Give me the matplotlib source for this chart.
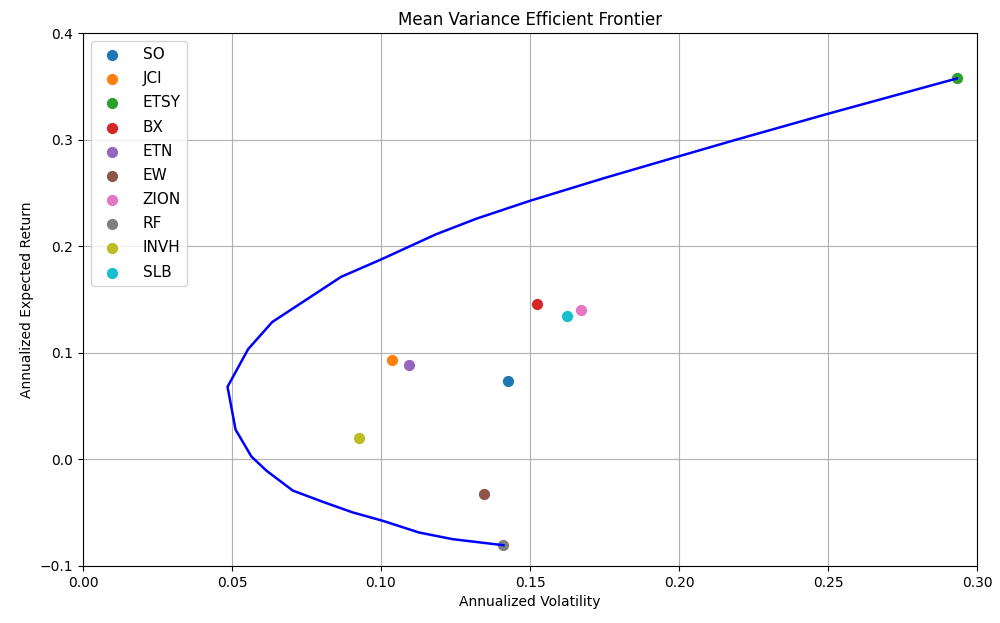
import matplotlib
matplotlib.use("Agg")
import matplotlib.pyplot as plt

tickers = ["SO", "JCI", "ETSY", "BX", "ETN", "EW", "ZION", "RF", "INVH", "SLB"]
asset_vol = [0.1425, 0.1036, 0.2933, 0.1525, 0.1093, 0.1344, 0.1670, 0.1411, 0.0925, 0.1623]
asset_ret = [0.0735, 0.0930, 0.3580, 0.1460, 0.0890, -0.0325, 0.1400, -0.0805, 0.0200, 0.1345]

frontier_vol = [0.1411, 0.1240, 0.1128, 0.1005, 0.0905, 0.0810, 0.0704, 0.0615, 0.0565,
                0.0512, 0.0485, 0.0554, 0.0635, 0.0866, 0.1000, 0.1184, 0.1320, 0.1500,
                0.1750, 0.2000, 0.2190, 0.2500, 0.2932]
frontier_ret = [-0.0805, -0.0748, -0.0686, -0.0575, -0.0497, -0.0403, -0.0292, -0.0104, 0.0028,
                0.0280, 0.0682, 0.1035, 0.1290, 0.1714, 0.1877, 0.2113, 0.2260, 0.2428,
                0.2642, 0.2846, 0.3000, 0.3245, 0.3576]

fig = plt.figure(figsize=(10, 6.23), dpi=100)
ax = fig.add_axes([0.083, 0.0915, 0.894, 0.855])

for t, v, r in zip(tickers, asset_vol, asset_ret):
    ax.scatter(v, r, s=50, label=t, zorder=2)

ax.plot(frontier_vol, frontier_ret, color="blue", lw=1.8, zorder=3)

ax.set_xlim(0, 0.30)
ax.set_ylim(-0.1, 0.4)
ax.grid(True, zorder=0)
ax.set_axisbelow(True)
ax.set_title("Mean Variance Efficient Frontier")
ax.set_xlabel("Annualized Volatility")
ax.set_ylabel("Annualized Expected Return")
ax.legend(loc="upper left", fontsize=11, labelspacing=0.6, handletextpad=1.0)

fig.savefig("out.png", dpi=100)
